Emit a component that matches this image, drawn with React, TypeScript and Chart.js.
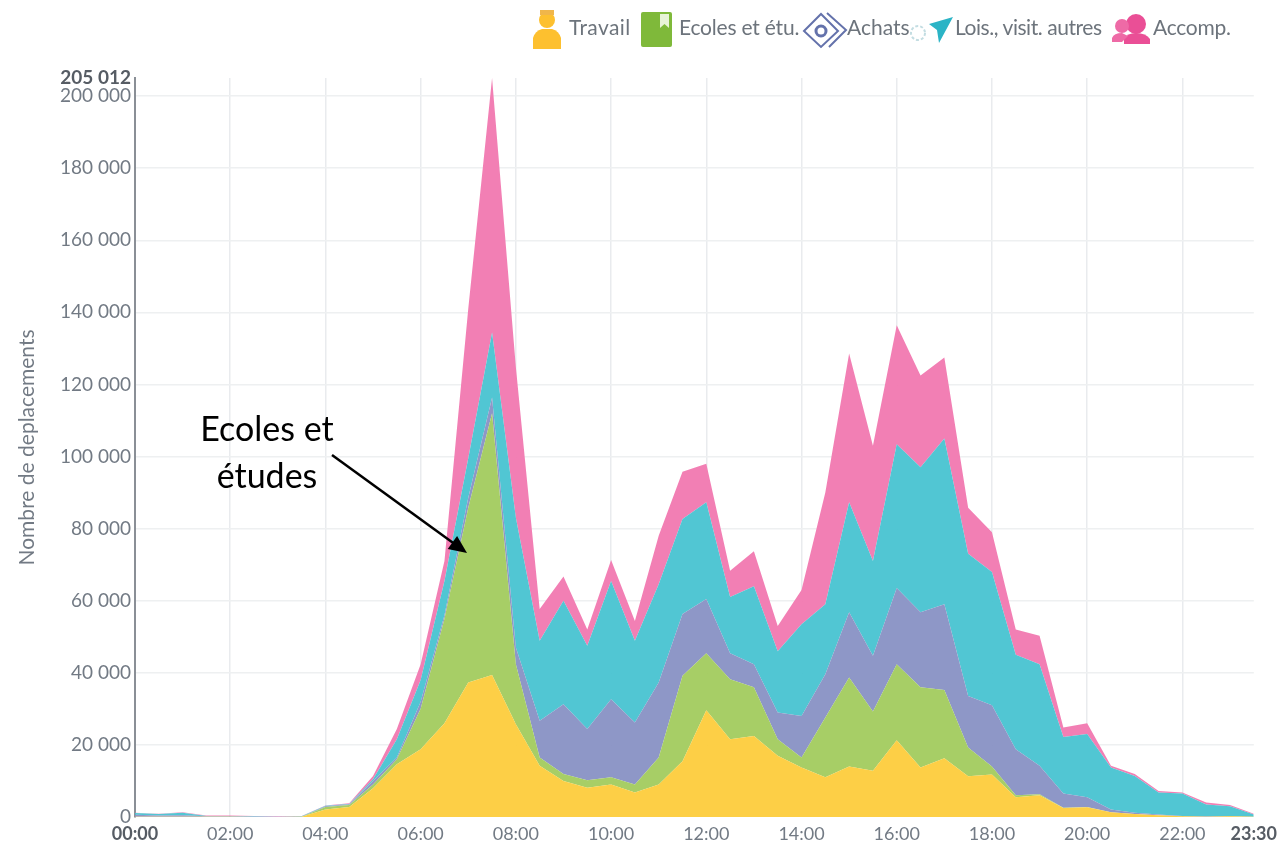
import React, { useEffect, useRef } from "react";
import { Chart, registerables } from "chart.js";

Chart.register(...registerables);

const times = [
  "00:00","00:30","01:00","01:30","02:00","02:30","03:00","03:30","04:00","04:30","05:00","05:30",
  "06:00","06:30","07:00","07:30","08:00","08:30","09:00","09:30","10:00","10:30","11:00","11:30",
  "12:00","12:30","13:00","13:30","14:00","14:30","15:00","15:30","16:00","16:30","17:00","17:30",
  "18:00","18:30","19:00","19:30","20:00","20:30","21:00","21:30","22:00","22:30","23:00","23:30",
];
const shownTimes = ["00:00","02:00","04:00","06:00","08:00","10:00","12:00","14:00","16:00","18:00","20:00","22:00","23:30"];
const yTicks = [0,20000,40000,60000,80000,100000,120000,140000,160000,180000,200000,205012];

const travail = [100,100,100,100,100,0,0,100,2100,2800,8000,14600,18800,26000,37300,39400,25700,14200,10000,8100,9000,6800,9000,15500,29600,21600,22500,17000,13700,11000,14000,12800,21300,13700,16300,11300,11800,5500,6000,2500,2700,1300,800,500,200,100,200,100];
const ecoles = [0,0,0,0,0,0,0,0,700,500,1000,1400,11200,29000,48500,72600,16700,2300,1900,2100,2000,2200,7500,23700,15800,16600,13500,4600,2800,16600,24700,16500,21100,22300,18900,8000,2200,500,300,100,100,0,0,0,0,0,0,0];
const achats = [500,300,400,100,100,100,50,0,200,200,1000,500,2000,1000,2800,4400,4600,10200,19400,14200,21700,17200,20800,17100,15100,7200,6400,7400,11500,12000,18100,15400,21100,20800,23800,14300,17000,12800,7900,3900,2700,800,400,200,100,100,100,0];
const lois = [500,400,700,100,100,100,50,100,100,100,500,5100,6000,9500,10900,18000,36000,22200,28700,23100,32800,22700,27300,26400,26800,15600,21600,17000,25500,19400,30500,26300,39900,40200,46000,39400,37000,26200,28200,15700,17500,11600,10200,6100,6200,3300,2700,600];
const accomp = [100,100,100,100,100,100,100,100,100,200,900,2800,4400,5500,41500,70612,41800,8800,6700,4500,5800,5500,13400,13100,10700,7300,9700,7000,9500,31000,41300,32000,33000,25500,22500,12800,11000,7000,7900,2600,3000,500,500,400,300,500,300,200];

const FONT = "Lato";
const GREY = "#727a84";
const DARK = "#565c64";

const fmt = (v: number) => String(v).replace(/\B(?=(\d{3})+(?!\d))/g, " ");

const layer = (label: string, data: number[], color: string, fill: any) => ({
  label, data, backgroundColor: color, borderWidth: 0, pointRadius: 0, tension: 0, fill, stack: "all",
});

const abs = (left: number, top: number, spacing = 0): React.CSSProperties => ({
  position: "absolute", left, top, fontFamily: FONT, fontSize: 21, lineHeight: "26px", color: "#6d747c", whiteSpace: "nowrap", letterSpacing: spacing,
});

export default function App() {
  const ref = useRef<HTMLCanvasElement>(null);
  useEffect(() => {
    if (!ref.current) return;
    const chart = new Chart(ref.current, {
      type: "line",
      data: {
        labels: times,
        datasets: [
          layer("Travail", travail, "rgba(253,205,62,0.96)", "origin"),
          layer("Ecoles et étu.", ecoles, "rgba(163,204,96,0.96)", "-1"),
          layer("Achats", achats, "rgba(137,147,197,0.96)", "-1"),
          layer("Lois., visit. autres", lois, "rgba(74,196,209,0.96)", "-1"),
          layer("Accomp.", accomp, "rgba(241,122,177,0.96)", "-1"),
        ],
      },
      options: {
        animation: false,
        responsive: false,
        devicePixelRatio: 1,
        layout: { padding: { left: 0, right: 25, top: 78, bottom: 0 } },
        plugins: { legend: { display: false }, tooltip: { enabled: false } },
        scales: {
          x: {
            type: "category",
            offset: false,
            afterFit: (s: any) => { s.height = 28; },
            border: { display: false },
            grid: {
              drawTicks: false,
              lineWidth: 1.5,
              color: (c: any) => {
                const l = times[c.index];
                return shownTimes.includes(l) && l !== "00:00" && l !== "23:30" ? "#e9ebee" : "rgba(0,0,0,0)";
              },
            },
            ticks: {
              autoSkip: false,
              maxRotation: 0,
              padding: 6,
              color: (c: any) => (c.index === 0 || c.index === 47 ? DARK : GREY),
              font: (c: any) => ({ family: FONT, size: 18, weight: c.index === 0 || c.index === 47 ? "bold" : "normal" }),
              callback: (_v: any, i: number) => (shownTimes.includes(times[i]) ? times[i] : ""),
            },
          },
          y: {
            stacked: true,
            min: 0,
            max: 205012,
            afterFit: (s: any) => { s.width = 135; },
            afterBuildTicks: (s: any) => { s.ticks = yTicks.map((value) => ({ value })); },
            border: { display: true, color: "#8a8f96", width: 2 },
            grid: {
              drawTicks: false,
              lineWidth: 1.5,
              color: (c: any) => (c.tick && c.tick.value % 20000 === 0 && c.tick.value > 0 ? "#eef0f1" : "rgba(0,0,0,0)"),
            },
            title: {
              display: true,
              text: "Nombre de deplacements",
              color: GREY,
              font: { family: FONT, size: 21 },
              padding: { top: 15, bottom: 0 },
            },
            ticks: {
              padding: 4,
              color: (c: any) => (c.tick.value === 205012 ? DARK : GREY),
              font: (c: any) => ({ family: FONT, size: 19, weight: c.tick && c.tick.value === 205012 ? "bold" : "normal" }),
              callback: (v: any) => fmt(Number(v)),
            },
          },
        },
      },
    } as any);
    return () => chart.destroy();
  }, []);

  return (
    <div style={{ position: "absolute", left: 0, top: 0, width: 1283, height: 845, background: "#fff", overflow: "hidden" }}>
      <canvas ref={ref} width={1283} height={845} style={{ position: "absolute", left: 0, top: 0, width: 1283, height: 845 }} />

      <svg width={1283} height={845} style={{ position: "absolute", left: 0, top: 0 }}>
        {/* Travail icon */}
        <path d="M533 49 L533 38 Q535 31 542 29 L552 29 Q559 31 561 38 L561 49 Z" fill="#fdc02f" />
        <circle cx={547} cy={20} r={8} fill="#fdc02f" />
        <rect x={540} y={10} width={14} height={5} fill="#f0b64a" />
        {/* Ecoles icon */}
        <rect x={641} y={12} width={31} height={35} rx={2} fill="#7fb93a" />
        <path d="M660 14 L669 14 L669 28 L664.5 24 L660 28 Z" fill="#e8f3d8" />
        {/* Achats icon */}
        <g fill="none" stroke="#6472ab" strokeWidth={2}>
          <path d="M827 13 L846 30 L829 47" />
          <path d="M804 31 L821 14 L838 31 L821 47 Z" fill="#fff" />
          <circle cx={821} cy={31} r={5} strokeWidth={3} />
        </g>
        {/* Lois icon */}
        <circle cx={918} cy={33} r={7} fill="none" stroke="#c3dde2" strokeWidth={2} strokeDasharray="3 2" />
        <path d="M953 17 L929 24 L937 30 L939 43 Z" fill="#2bb4c6" />
        {/* Accomp icon */}
        <circle cx={1136} cy={24} r={10} fill="#ea4f96" />
        <circle cx={1122} cy={26} r={7} fill="#ee6aa6" />
        <path d="M1124 44 L1124 39 Q1127 33 1136 33 Q1146 33 1150 39 L1150 44 Z" fill="#ea4f96" />
        <path d="M1112 42 L1112 38 Q1114 33 1122 33 L1128 36 L1122 42 Z" fill="#ee6aa6" />
        {/* Annotation arrow */}
        <line x1={332} y1={455} x2={456} y2={545} stroke="#000" strokeWidth={2.5} />
        <polygon points="467,553 447.7,548.9 457.1,535.9" fill="#000" />
      </svg>

      <div style={abs(569, 14, 0.4)}>Travail</div>
      <div style={abs(679, 14, -0.2)}>Ecoles et étu.</div>
      <div style={abs(847, 14)}>Achats</div>
      <div style={abs(955, 14, -0.45)}>Lois., visit. autres</div>
      <div style={abs(1153, 14, -0.25)}>Accomp.</div>

      <div style={{ position: "absolute", left: 167, width: 200, top: 404, textAlign: "center", fontFamily: FONT, fontSize: 34, lineHeight: "47px", color: "#000" }}>
        Ecoles et
        <br />
        études
      </div>
    </div>
  );
}
